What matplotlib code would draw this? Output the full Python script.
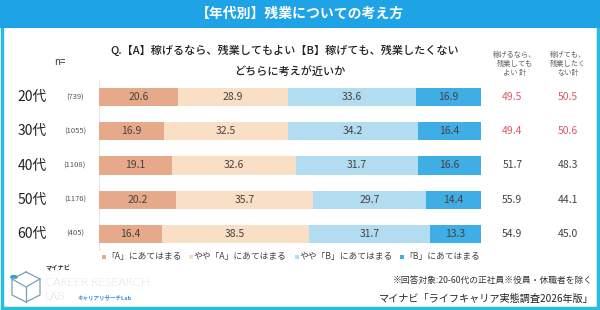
import matplotlib
matplotlib.use("Agg")
import matplotlib.pyplot as plt
from matplotlib.patches import Rectangle, Circle
from matplotlib.lines import Line2D

plt.rcParams['font.family'] = ['Noto Sans CJK JP', 'DejaVu Sans']

ages = ["20代", "30代", "40代", "50代", "60代"]
ns = ["(739)", "(1055)", "(1108)", "(1176)", "(405)"]
a_full = [20.6, 16.9, 19.1, 20.2, 16.4]
a_some = [28.9, 32.5, 32.6, 35.7, 38.5]
b_some = [33.6, 34.2, 31.7, 29.7, 31.7]
b_full = [16.9, 16.4, 16.6, 14.4, 13.3]
tot_a = [49.5, 49.4, 51.7, 55.9, 54.9]
tot_b = [50.5, 50.6, 48.3, 44.1, 45.0]
series_labels = ["「A」にあてはまる", "やや「A」にあてはまる", "やや「B」にあてはまる", "「B」にあてはまる"]
colors = ["#e6aa8b", "#f8dfc5", "#b2dcef", "#3eaee5"]

W, H = 600, 310
fig = plt.figure(figsize=(6, 3.1), dpi=100)
fig.patch.set_facecolor("white")

def fx(px): return px / W
def fy(py): return 1 - py / H

# frame and banner
fig.patches.append(Rectangle((fx(2), fy(308)), fx(596), 306 / H, transform=fig.transFigure,
                             fill=False, edgecolor="#2bbbe2", linewidth=2.5))
fig.patches.append(Rectangle((0, fy(28)), 1, 28 / H, transform=fig.transFigure,
                             facecolor="#1da3e6", edgecolor="none"))
fig.text(0.5, fy(14), "【年代別】残業についての考え方", color="white", fontsize=10,
         fontweight="bold", ha="center", va="center")

fig.text(fx(285), fy(50), "Q.【A】稼げるなら、残業してもよい【B】稼げても、残業したくない",
         fontsize=8, ha="center", va="center", color="#222222", fontweight="medium")
fig.text(fx(290), fy(72), "どちらに考えが近いか", fontsize=8, ha="center", va="center",
         color="#222222", fontweight="medium")
fig.text(fx(60), fy(62), "n=", fontsize=7, ha="center", va="center", color="#333333")
fig.text(fx(515), fy(64), "稼げるなら、\n残業しても\nよい 計", fontsize=5.2, ha="center",
         va="center", color="#666666", linespacing=1.2)
fig.text(fx(568), fy(64), "稼げても、\n残業したく\nない計", fontsize=5.2, ha="center",
         va="center", color="#666666", linespacing=1.2)

# bars axes: rows centered at y=97..234px
ax = fig.add_axes([fx(99), fy(251), fx(481) - fx(99), 171 / H])
ax.set_xlim(0, 100)
ax.set_ylim(4.5, -0.5)
ax.axis("off")
ax.axvline(0, color="#e8e8e8", linewidth=1, zorder=0)

ypos = list(range(len(ages)))
left = [0] * len(ages)
data = [a_full, a_some, b_some, b_full]
for vals, c in zip(data, colors):
    ax.barh(ypos, vals, left=left, height=0.53, color=c, edgecolor="none", zorder=2)
    for y, v, l in zip(ypos, vals, left):
        ax.text(l + v / 2, y, f"{v:.1f}", ha="center", va="center", fontsize=7.5,
                color="#4a4040", zorder=3)
    left = [l + v for l, v in zip(left, vals)]

for y, age, n, ta, tb in zip(ypos, ages, ns, tot_a, tot_b):
    ax.text(-17.5, y, age, ha="center", va="center", fontsize=10, color="#222222",
            fontweight="normal", clip_on=False)
    ax.text(-6.3, y, n, ha="center", va="center", fontsize=5.5, color="#555555", clip_on=False)
    ax.text(108.2, y, f"{ta:.1f}", ha="center", va="center", fontsize=7.5,
            color="#e0596b" if ta < 50 else "#444444", clip_on=False)
    ax.text(122.8, y, f"{tb:.1f}", ha="center", va="center", fontsize=7.5,
            color="#e0596b" if tb > 50 else "#444444", clip_on=False)

# legend
leg_x = [104, 191, 297, 402]
for x, lab, c in zip(leg_x, series_labels, colors):
    fig.patches.append(Rectangle((fx(x - 2), fy(259)), 4 / W, 4 / H, transform=fig.transFigure,
                                 facecolor=c, edgecolor="none"))
    fig.text(fx(x + 2), fy(257), lab, fontsize=6.3, ha="left", va="center", color="#444444")

# footnotes
fig.text(fx(593), fy(280), "※回答対象:20-60代の正社員※役員・休職者を除く", fontsize=6.3,
         ha="right", va="center", color="#333333")
fig.text(fx(594), fy(299), "マイナビ「ライフキャリア実態調査2026年版」", fontsize=7.3,
         ha="right", va="center", color="#222222")

# logo
lc = "#7a9fb5"
pts = [(26, 272), (40, 279), (40, 295), (26, 302), (12, 295), (12, 279), (26, 272)]
fig.lines.append(Line2D([fx(p[0]) for p in pts], [fy(p[1]) for p in pts],
                        transform=fig.transFigure, color=lc, linewidth=0.9))
inner = [(12, 279), (26, 287), (40, 279)]
fig.lines.append(Line2D([fx(p[0]) for p in inner], [fy(p[1]) for p in inner],
                        transform=fig.transFigure, color=lc, linewidth=0.9))
fig.lines.append(Line2D([fx(26), fx(26)], [fy(287), fy(302)],
                        transform=fig.transFigure, color=lc, linewidth=0.9))
fig.patches.append(Circle((fx(14), fy(277)), 4 / W, transform=fig.transFigure,
                          facecolor="#2a9fd6", edgecolor="none"))
fig.text(fx(45), fy(268), "マイナビ", fontsize=4.5, fontweight="bold", color="#333333",
         ha="left", va="center")
fig.text(fx(45), fy(283), "CAREER RESEARCH", fontsize=8.5, color="#8a98a5",
         ha="left", va="center", family=["Lato", "DejaVu Sans"], fontweight="light")
fig.text(fx(45), fy(297), "LAB", fontsize=8.5, color="#8a98a5",
         ha="left", va="center", family=["Lato", "DejaVu Sans"], fontweight="light")
fig.text(fx(78), fy(297), "キャリアリサーチLab", fontsize=4, color="#3a8fd0",
         ha="left", va="center", fontweight="bold")

fig.savefig("out.png", dpi=100)
